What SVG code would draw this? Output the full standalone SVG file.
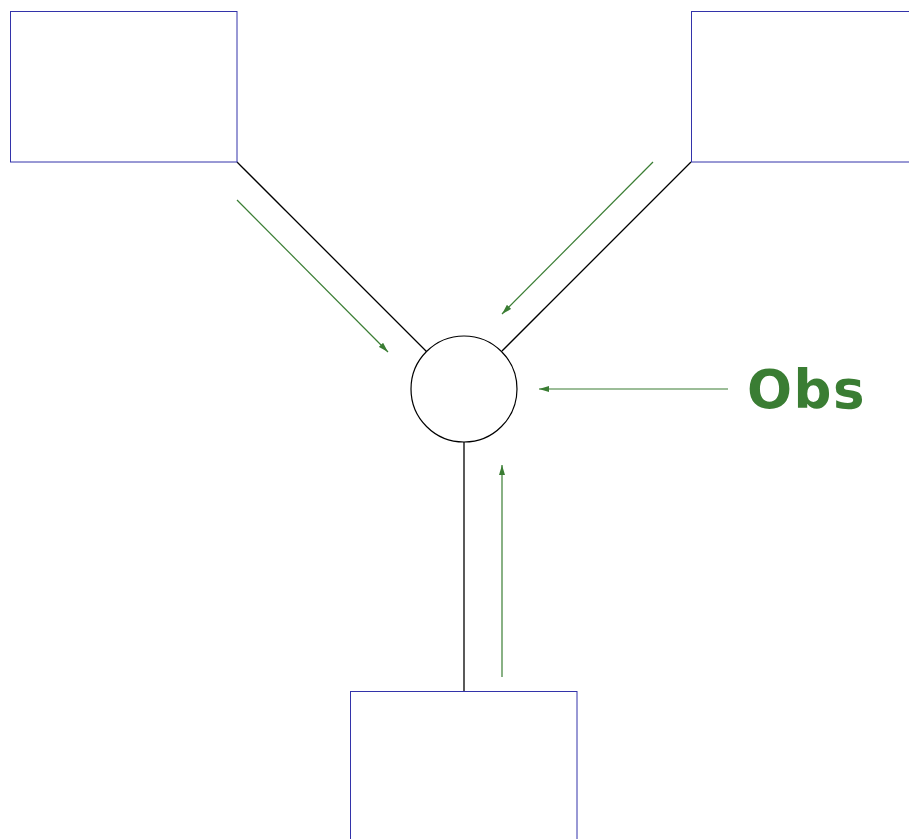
<svg xmlns="http://www.w3.org/2000/svg" width="909" height="839" viewBox="0 0 909 839">
<style>
.box{fill:#fff;stroke:#3333aa;stroke-width:1}
.link{stroke:#000;stroke-width:1.3;fill:none}
.flow{stroke:#3a7d33;stroke-width:1.2;fill:none;marker-end:url(#ah)}
.lbl{font-family:"DejaVu Sans",sans-serif;font-weight:bold;font-size:53px;letter-spacing:1.5px;fill:#3a7d33}
</style>
<defs>
<marker id="ah" viewBox="0 0 10 6" refX="10" refY="3" markerWidth="10" markerHeight="6" markerUnits="userSpaceOnUse" orient="auto">
<path d="M0,0 L10,3 L0,6 Z" fill="#3a7d33"/>
</marker>
</defs>
<rect width="909" height="839" fill="#fff"/>
<g id="connectors">
<line class="link" x1="237" y1="162" x2="427" y2="352"/>
<line class="link" x1="691" y1="162" x2="502" y2="351"/>
<line class="link" x1="464" y1="442" x2="464" y2="691"/>
<line class="flow" x1="237" y1="200" x2="388" y2="352"/>
<line class="flow" x1="653" y1="162" x2="502" y2="314"/>
<line class="flow" x1="728" y1="389" x2="539" y2="389"/>
<line class="flow" x1="502" y1="677" x2="502" y2="465"/>
</g>
<g id="box-top-left"><rect class="box" x="10.5" y="11.5" width="226.5" height="150.5"/></g>
<g id="box-top-right"><rect class="box" x="691.5" y="11.5" width="230" height="150.5"/></g>
<g id="box-bottom"><rect class="box" x="350.5" y="691.5" width="226.5" height="160"/></g>
<g id="junction"><circle cx="464" cy="389" r="53" fill="#fff" stroke="#000" stroke-width="1.2"/></g>
<g id="label-obs"><text class="lbl" x="747" y="408">Obs</text></g>
</svg>
